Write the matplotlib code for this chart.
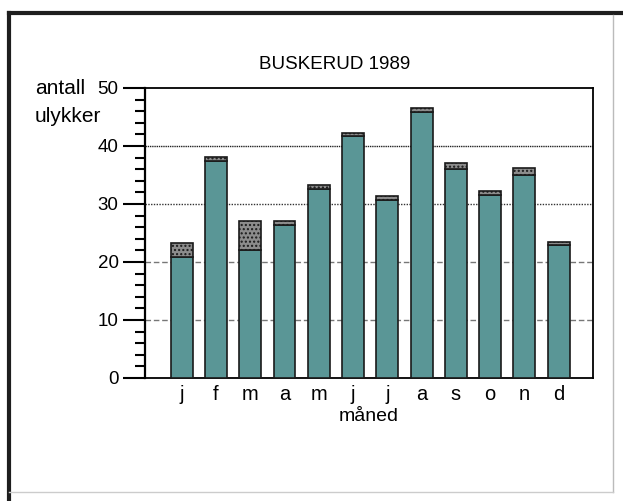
import numpy as np
import matplotlib.pyplot as plt
from matplotlib.lines import Line2D

plt.rcParams['font.family'] = ['Liberation Sans', 'DejaVu Sans']

# Accidents per month, Buskerud 1989 (lower teal part + upper speckled part)
months = ['j', 'f', 'm', 'a', 'm', 'j', 'j', 'a', 's', 'o', 'n', 'd']
lower = [20.8, 37.5, 22.0, 26.4, 32.6, 41.7, 30.7, 45.9, 36.0, 31.6, 35.0, 23.0]
upper = [2.4, 0.6, 5.0, 0.6, 0.6, 0.6, 0.6, 0.6, 1.1, 0.6, 1.2, 0.5]

W, H = 623, 501
fig = plt.figure(figsize=(W / 100, H / 100), dpi=100)

# page frame: heavy left/top edges, faint right/bottom edges
def fline(xs, ys, **kw):
    fig.add_artist(Line2D([v / W for v in xs], [1 - v / H for v in ys],
                          transform=fig.transFigure, **kw))

fline([9, 9], [13, 501], color='#1e1e1e', linewidth=3)
fline([9, 623], [13, 13], color='#1e1e1e', linewidth=3)
fline([613, 613], [15, 492], color='#bbbbbb', linewidth=1)
fline([9, 613], [492, 492], color='#cccccc', linewidth=1)

ax = fig.add_axes([145 / W, 1 - 378 / H, 448 / W, 290 / H])
x = np.arange(len(months))
ax.bar(x, lower, width=0.64, color='#5a9696', edgecolor='#1a1a1a', linewidth=1.2, zorder=3)
ax.bar(x, upper, bottom=lower, width=0.64, color='#8c8c8c', edgecolor='#1a1a1a',
       linewidth=1.2, hatch='....', zorder=3)

ax.set_xlim(-1.07, 12.0)
ax.set_ylim(0, 50)
ax.set_yticks([0, 10, 20, 30, 40, 50])
ax.set_yticks(np.arange(0, 50, 2), minor=True)
ax.set_xticks(x)
ax.set_xticklabels(months)
ax.tick_params(axis='x', length=0, labelsize=14.5, pad=5)
ax.tick_params(axis='y', which='major', length=16, width=1.5, labelsize=13.5, pad=3)
ax.tick_params(axis='y', which='minor', length=7, width=1.5)
for s in ax.spines.values():
    s.set_linewidth(1.3)
ax.spines['left'].set_linewidth(1.6)

for v, st, col in [(10, (0, (4, 2)), '#777777'), (20, (0, (4, 2)), '#777777'),
                   (30, (0, (1, 1)), '#333333'), (40, (0, (1, 0.6)), '#222222')]:
    ax.axhline(v, color=col, linestyle=st, linewidth=1.0, zorder=1)

ax.set_title('BUSKERUD 1989', fontsize=13.5, pad=14, x=(335 - 145) / 448)
ax.set_xlabel('måned', fontsize=14, labelpad=3)
fig.text(35 / W, 1 - 89 / H, 'antall', fontsize=15, va='center', ha='left')
fig.text(35 / W, 1 - 117 / H, 'ulykker', fontsize=15, va='center', ha='left')

fig.savefig('out.png', dpi=100)
